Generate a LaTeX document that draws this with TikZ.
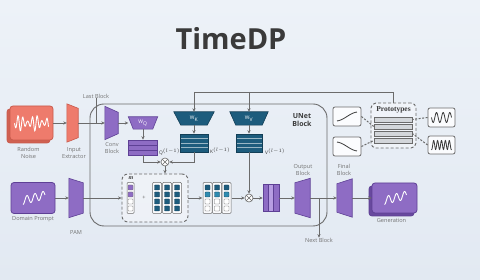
\documentclass[tikz,border=0pt]{standalone}
\usepackage{fontspec}
\setmainfont{Open Sans}
\newfontfamily\serifbold{Liberation Serif}
\usepackage{tikz}
\usetikzlibrary{arrows.meta, positioning, calc}
\definecolor{bgtop}{HTML}{EDF2F8}
\definecolor{bgbot}{HTML}{E2E9F2}
\definecolor{salmon}{HTML}{EE7B6C}
\definecolor{salmondk}{HTML}{C95A4C}
\definecolor{purp}{HTML}{8E6CC4}
\definecolor{purpdk}{HTML}{5E4095}
\definecolor{purplt}{HTML}{B79DE2}
\definecolor{tealc}{HTML}{1D5C7D}
\definecolor{tealdk}{HTML}{133F57}
\definecolor{teallt}{HTML}{2E8BB0}
\definecolor{linegray}{HTML}{6B6B6B}
\definecolor{txtgray}{HTML}{727272}
\definecolor{darktxt}{HTML}{3A3A3A}
\definecolor{cellgray}{HTML}{D3D6DA}
\tikzstyle{lbl} = [font=\fontsize{5.6}{6.6}\selectfont, text=txtgray, align=center, inner sep=0]
\tikzstyle{sub} = [font=\fontsize{4.8}{5.5}\selectfont, text=darktxt, inner sep=0]
\tikzstyle{arrow} = [line width=0.7pt, draw=linegray, -{Stealth[length=3.5pt, width=3.2pt]}]
\tikzstyle{line} = [line width=0.7pt, draw=linegray]
\tikzstyle{tbox} = [rectangle, inner sep=0]
\tikzstyle{wtxt} = [text=white, font=\fontsize{5}{6}\selectfont, inner sep=0]
\tikzstyle{card} = [rectangle, rounded corners=3pt, line width=0.8pt, inner sep=0]
\tikzstyle{smallbox} = [rectangle, rounded corners=2pt, draw=linegray, fill=white!80!bgtop, line width=0.8pt, minimum width=28, minimum height=19, inner sep=0]
\tikzstyle{dashbox} = [rectangle, rounded corners=6pt, draw=linegray, dash pattern=on 3pt off 2pt, line width=0.9pt, fill=white, fill opacity=0.35, inner sep=0]
\tikzstyle{colbox} = [rectangle, rounded corners=1pt, draw=linegray, fill=white!70!bgtop, line width=0.5pt, minimum width=9, minimum height=31, inner sep=0]
\tikzstyle{cell} = [rectangle, rounded corners=0.6pt, minimum size=5, inner sep=0, line width=0.4pt]
\tikzstyle{mul} = [circle, draw=linegray, fill=white, line width=0.6pt, minimum size=8, inner sep=0]
\tikzstyle{bar} = [rectangle, draw=linegray, fill=cellgray, line width=0.5pt, minimum width=38, minimum height=5, inner sep=0]
\tikzstyle{dotline} = [draw=linegray, line width=1pt, dash pattern=on 2pt off 1.5pt]
\tikzstyle{qmat} = [rectangle, draw=purpdk, fill=purp, line width=0.6pt, minimum width=29, minimum height=15, inner sep=0,
  path picture={\foreach \i in {1,2} \draw[purpdk, line width=0.6pt] ($(path picture bounding box.north west)!\i/3!(path picture bounding box.south west)$) -- ($(path picture bounding box.north east)!\i/3!(path picture bounding box.south east)$);}]
\tikzstyle{kvmat} = [rectangle, draw=tealdk, fill=tealc, line width=0.6pt, minimum width=28, minimum height=18, inner sep=0,
  path picture={\foreach \i in {1,2,3} \draw[white!55!tealc, line width=0.6pt] ($(path picture bounding box.north west)!\i/4!(path picture bounding box.south west)$) -- ($(path picture bounding box.north east)!\i/4!(path picture bounding box.south east)$);}]
\begin{document}
\begin{tikzpicture}[x=1pt, y=-1pt]
    \shade[top color=bgtop, bottom color=bgbot] (0,0) rectangle (480,280);
    \node[font=\fontsize{29}{32}\selectfont\bfseries, text=darktxt] (title) at (231,39) {TimeDP};
    % unet frame
    \node[rectangle, rounded corners=14pt, draw=linegray, line width=0.9pt, minimum width=237, minimum height=122, inner sep=0] (unet) at (208.5,165) {};
    \node[font=\fontsize{7}{8.5}\selectfont\bfseries, text=darktxt, align=center] (unetlbl) at (302,120) {UNet\\Block};
    % inputs
    \node[card, fill=salmondk!80!salmon, draw=salmondk, minimum width=43, minimum height=34] (noisebk) at (28.5,126) {};
    \node[card, fill=salmon, draw=salmondk, minimum width=43, minimum height=34] (noise) at (31.5,123) {};
    \draw[white, line width=0.9pt, shift={(noise.center)}] plot[smooth, domain=-17:17, samples=90] (\x, {-(5+3*sin(\x*23))*sin(\x*75+20)});
    \node[lbl, below=4pt of noisebk] (noiselbl) {Random\\Noise};
    \node[tbox, minimum width=11, minimum height=38] (extr) at (72.5,123) {};
    \filldraw[fill=salmon, draw=salmondk, line width=0.6pt] (extr.north west) -- ($(extr.north east)+(0,4.5)$) -- ($(extr.south east)+(0,-4.5)$) -- (extr.south west) -- cycle;
    \node[lbl] (extrlbl) at (74,153) {Input\\Extractor};
    \node[lbl] (lastb) at (96,96) {Last Block};
    \node[tbox, minimum width=13, minimum height=33] (conv) at (111.5,123) {};
    \filldraw[fill=purp, draw=purpdk, line width=0.6pt] (conv.north west) -- ($(conv.north east)+(0,6)$) -- ($(conv.south east)+(0,-6)$) -- (conv.south west) -- cycle;
    \node[lbl] (convlbl) at (112,148) {Conv\\Block};
    \node[card, fill=purp, draw=purpdk, minimum width=44, minimum height=31] (prompt) at (33,198) {};
    \draw[white, line width=0.9pt, shift={(prompt.center)}] plot[smooth, domain=-10:12, samples=60] (\x, {-0.25*\x - 4*sin(\x*45)});
    \node[lbl, below=2pt of prompt] (promptlbl) {Domain Prompt};
    \node[tbox, minimum width=14, minimum height=39] (pam) at (76,198) {};
    \filldraw[fill=purp, draw=purpdk, line width=0.6pt] (pam.north west) -- ($(pam.north east)+(0,4.5)$) -- ($(pam.south east)+(0,-4.5)$) -- (pam.south west) -- cycle;
    \node[lbl] (pamlbl) at (76,232) {PAM};
    % attention
    \node[tbox, minimum width=29, minimum height=12] (wq) at (143,123) {};
    \filldraw[fill=purp, draw=purpdk, line width=0.6pt] (wq.north west) -- (wq.north east) -- ($(wq.south east)+(-5,0)$) -- ($(wq.south west)+(5,0)$) -- cycle;
    \node[wtxt] at (wq) {W\textsubscript{Q}};
    \node[qmat] (qmat) at (143,147.5) {};
    \node[sub, anchor=west] (qlbl) at (159,152) {Q$^{(l-1)}$};
    \node[tbox, minimum width=40, minimum height=13] (wk) at (194,118.5) {};
    \filldraw[fill=tealc, draw=tealdk, line width=0.6pt] (wk.north west) -- (wk.north east) -- ($(wk.south east)+(-7,0)$) -- ($(wk.south west)+(7,0)$) -- cycle;
    \node[wtxt] at (wk) {W\textsubscript{K}};
    \node[kvmat] (kmat) at (194,143) {};
    \node[sub, anchor=west] (klbl) at (210,151) {K$^{(l-1)}$};
    \node[tbox, minimum width=38, minimum height=13] (wv) at (249,118.5) {};
    \filldraw[fill=tealc, draw=tealdk, line width=0.6pt] (wv.north west) -- (wv.north east) -- ($(wv.south east)+(-6,0)$) -- ($(wv.south west)+(6,0)$) -- cycle;
    \node[wtxt] at (wv) {W\textsubscript{V}};
    \node[kvmat, minimum width=26] (vmat) at (249,143) {};
    \node[sub, anchor=west] (vlbl) at (265,152) {V$^{(l-1)}$};
    \node[mul] (mul1) at (165,162) {};
    % mask and scores
    \node[dashbox, minimum width=66, minimum height=48] (mask) at (155,198) {};
    \node[colbox, minimum width=7] (mcol) at (130.5,198) {};
    \foreach \y/\c in {187.5/purp, 194.5/purp, 201.5/white, 208.5/white}
      \node[cell, fill=\c, draw=linegray] at (130.5,\y) {};
    \node[font=\serifbold\bfseries\itshape\fontsize{6}{6}\selectfont, text=darktxt, inner sep=0] (mlbl) at (131,178.5) {m};
    \node[lbl, text=linegray] (plus) at (144,198) {+};
    \foreach \i in {0,1,2} {
      \node[colbox] (emb\i) at (157+10*\i,198) {};
      \foreach \y in {187.5,194.5,201.5,208.5}
        \node[cell, fill=tealc, draw=tealdk] at (157+10*\i,\y) {};
    }
    \node[minimum width=29, minimum height=31, inner sep=0] (attn) at (217,198) {};
    \foreach \i in {0,1,2} {
      \node[colbox] (attn\i) at (207.5+9.5*\i,198) {};
      \node[cell, fill=tealc, draw=tealdk] at (207.5+9.5*\i,187.5) {};
      \node[cell, fill=teallt, draw=tealdk] at (207.5+9.5*\i,194.5) {};
      \foreach \y in {201.5,208.5}
        \node[cell, fill=white, draw=linegray] at (207.5+9.5*\i,\y) {};
    }
    \node[mul] (mul2) at (249,198) {};
    \node[rectangle, draw=purpdk, fill=purp, line width=0.6pt, minimum width=16, minimum height=27, inner sep=0] (bars) at (271,198) {};
    \foreach \i/\c in {0/purp, 1/purplt, 2/purp}
      \node[rectangle, draw=purpdk, fill=\c, line width=0.5pt, minimum width=5.33, minimum height=27, inner sep=0] at (265.67+5.33*\i,198) {};
    % output side
    \node[tbox, minimum width=15, minimum height=39] (outb) at (302.5,198) {};
    \filldraw[fill=purp, draw=purpdk, line width=0.6pt] ($(outb.north west)+(0,4.5)$) -- (outb.north east) -- (outb.south east) -- ($(outb.south west)+(0,-4.5)$) -- cycle;
    \node[lbl] (outlbl) at (303,170) {Output\\Block};
    \node[tbox, minimum width=15, minimum height=38] (finb) at (344.5,198) {};
    \filldraw[fill=purp, draw=purpdk, line width=0.6pt] ($(finb.north west)+(0,5)$) -- (finb.north east) -- (finb.south east) -- ($(finb.south west)+(0,-5)$) -- cycle;
    \node[lbl] (finlbl) at (344,170) {Final\\Block};
    \coordinate (br) at (319,198);
    \node[lbl] (nextb) at (319,240) {Next Block};
    \node[card, fill=purpdk!80!purp, draw=purpdk, minimum width=45, minimum height=30] (genbk) at (391.5,201) {};
    \node[card, fill=purp, draw=purpdk, minimum width=45, minimum height=30] (gen) at (394.5,198) {};
    \draw[white, line width=0.9pt, shift={(gen.center)}] plot[smooth, domain=-10:12, samples=60] (\x, {-0.25*\x - 4*sin(\x*45)});
    \node[lbl, below=2pt of genbk] (genlbl) {Generation};
    % prototypes
    \node[dashbox, minimum width=45, minimum height=45, rounded corners=5pt] (proto) at (393.5,125.5) {};
    \node[font=\serifbold\bfseries\fontsize{7.5}{8}\selectfont, text=darktxt, inner sep=0] (protolbl) at (393.5,110) {Prototypes};
    \foreach \i/\y in {1/119.5, 2/126.5, 3/133.5, 4/140.5}
      \node[bar] (p\i) at (393,\y) {};
    \node[smallbox] (up) at (347,116.5) {};
    \draw[darktxt, line width=0.8pt, shift={(up.center)}] plot[smooth, domain=-10:10, samples=30] (\x, {-4.5*sin(\x*8)});
    \node[smallbox] (down) at (347,146.5) {};
    \draw[darktxt, line width=0.8pt, shift={(down.center)}] plot[smooth, domain=-10:10, samples=30] (\x, {4.5*sin(\x*8)});
    \node[smallbox, minimum width=27] (slow) at (441.5,117.5) {};
    \draw[darktxt, line width=0.8pt, shift={(slow.center)}] plot[smooth, domain=-10:10, samples=60] (\x, {-5*sin(\x*54)});
    \node[smallbox, minimum width=27, minimum height=18] (fast) at (441.5,145) {};
    \draw[darktxt, line width=0.8pt, shift={(fast.center)}] plot[smooth, domain=-10:10, samples=80] (\x, {-4.5*sin(\x*92+90)});
    % connectors
    \draw[arrow] (noise) -- (extr);
    \draw[arrow] (extr) -- (conv);
    \draw[line] (lastb.south) -- (lastb.south |- conv);
    \draw[arrow] (conv) -- (wq);
    \draw[arrow] (wq) -- (qmat);
    \draw[arrow] (wk) -- (kmat);
    \draw[arrow] (wv) -- (vmat);
    \draw[arrow] (qmat.south) |- (mul1);
    \draw[arrow] (kmat.south) |- (mul1);
    \draw[line, line width=0.5pt] (mul1.north west) -- (mul1.south east) (mul1.north east) -- (mul1.south west);
    \draw[arrow] (mul1) -- (mul1 |- mask.north);
    \draw[arrow] (prompt) -- (pam);
    \draw[arrow] (pam) -- (mask);
    \draw[arrow] (mask) -- (attn);
    \draw[arrow] (attn) -- (mul2);
    \draw[arrow] (vmat) -- (mul2);
    \draw[line, line width=0.5pt] (mul2.north west) -- (mul2.south east) (mul2.north east) -- (mul2.south west);
    \draw[arrow] (mul2) -- (bars);
    \draw[arrow] (bars) -- (outb);
    \draw[arrow] (outb) -- (finb);
    \draw[arrow] (br) -- (br |- nextb.north);
    \draw[arrow] (finb) -- (gen);
    \coordinate (top) at (300,92);
    \draw[line] (proto.north) -- (proto.north |- top) -- (wk |- top);
    \draw[arrow] (wk |- top) -- (wk);
    \draw[arrow] (wv |- top) -- (wv);
    \draw[dotline] (up.east) -- (p2.west);
    \draw[dotline] (down.east) -- (p4.west);
    \draw[dotline] (slow.west) -- (p1.east);
    \draw[dotline] (fast.west) -- (p3.east);
  \end{tikzpicture}
\end{document}
